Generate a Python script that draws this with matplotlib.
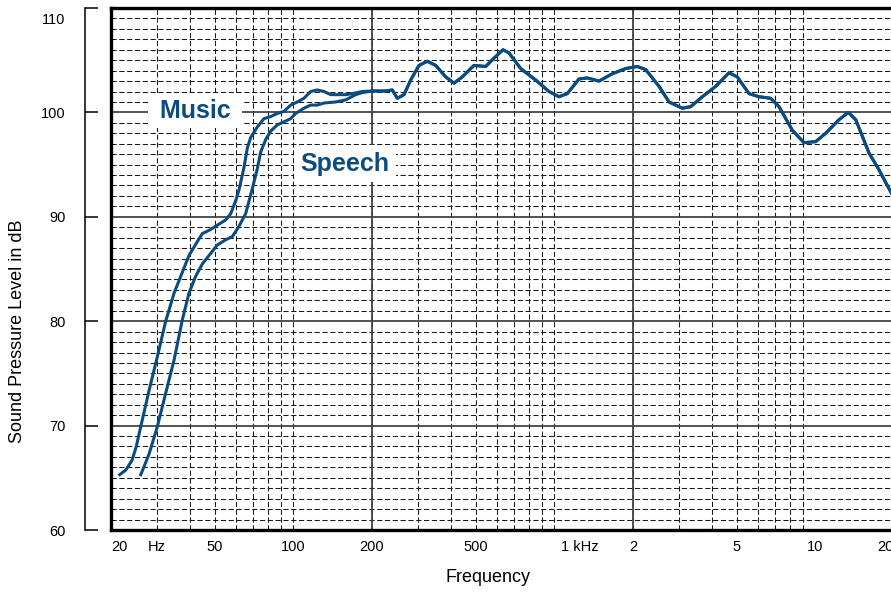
import numpy as np
import matplotlib.pyplot as plt
from matplotlib.ticker import NullLocator
from matplotlib.transforms import ScaledTranslation

plt.rcParams['font.family'] = ['Liberation Sans', 'DejaVu Sans']

# Low-frequency part of the response for each preset (Hz, dB SPL)
music_hz = [21.6, 22.8, 24.1, 25.0, 26.0, 28.0, 30.1, 32.4, 34.9, 37.0, 39.8,
            43.5, 44.8, 47.5, 50.4, 55.0, 57.5, 60.2, 61.9, 64.6, 66.6, 68.6,
            72.7, 77.1, 81.8, 86.7, 92.0, 97.6, 103.5, 109.7, 116.4, 123.4,
            131.0, 139.0, 149.5, 158.6, 168.1, 183.6]
music_db = [65.3, 65.75, 66.7, 68.0, 69.9, 73.4, 76.6, 80.0, 82.7, 84.3, 86.3,
            87.9, 88.4, 88.7, 89.1, 89.7, 90.3, 91.6, 92.6, 94.7, 96.6, 97.6,
            98.6, 99.4, 99.6, 99.9, 100.1, 100.7, 101.0, 101.35, 102.0, 102.15,
            102.0, 101.7, 101.7, 101.7, 101.8, 102.0]

speech_hz = [26.0, 26.8, 28.0, 30.1, 32.4, 34.9, 37.5, 39.8, 42.2, 44.8, 47.5,
             51.1, 55.0, 58.3, 61.9, 65.6, 69.6, 72.7, 74.9, 78.3, 81.8, 86.7,
             92.0, 97.6, 102.0, 109.7, 116.4, 123.4, 131.0, 145.2, 158.6, 173.2,
             183.6]
speech_db = [65.3, 66.1, 67.3, 69.9, 73.1, 76.3, 80.1, 82.7, 84.3, 85.5, 86.3,
             87.3, 87.8, 88.1, 89.1, 90.3, 92.7, 94.6, 96.2, 97.4, 98.2, 98.8,
             99.1, 99.4, 99.9, 100.4, 100.7, 100.7, 100.9, 101.0, 101.2, 101.7,
             101.9]

# Above ~200 Hz both presets give the same curve
common_hz = [200.5, 225.7, 239.2, 250.0, 265.3, 281.4, 302.7, 325.8, 350.8,
             383.2, 412.4, 443.6, 491.9, 545.4, 586.9, 635.2, 669.7, 742.5,
             847.9, 953.5, 1041, 1120, 1242, 1336, 1482, 1666, 1875, 2077,
             2237, 2516, 2748, 3090, 3328, 3687, 4150, 4666, 5018, 5565, 6078,
             6740, 7252, 8154, 9040, 10024, 10948, 12310, 13366, 14272, 16049,
             17523, 19136, 20000]
common_db = [102.05, 102.05, 102.15, 101.35, 101.7, 103.1, 104.5, 104.9, 104.5,
             103.4, 102.8, 103.4, 104.5, 104.4, 105.2, 106.0, 105.7, 104.2,
             103.1, 102.0, 101.5, 101.8, 103.2, 103.3, 103.0, 103.7, 104.2, 104.4,
             104.1, 102.5, 101.0, 100.4, 100.55, 101.5, 102.5, 103.8, 103.4, 101.8,
             101.5, 101.35, 100.55, 98.3, 97.1, 97.2, 98.0, 99.3, 100.0, 99.3,
             96.1, 94.5, 92.7, 91.8]

freq_ticks = [20, 30, 50, 100, 200, 500, 1000, 2000, 5000, 10000, 20000]
freq_labels = ['20', 'Hz', '50', '100', '200', '500', '1 kHz', '2', '5', '10', '20']
level_ticks = [60, 70, 80, 90, 100, 110]

blue = '#0b4c80'
grid_dash = (0, (5, 2.5))

fig = plt.figure(figsize=(8.91, 5.94), dpi=100)
ax = fig.add_axes([111 / 891, 64 / 594, 783 / 891, 522 / 594])
ax.set_xscale('log')
ax.set_xlim(20, 20000)
ax.set_ylim(60, 110)

# log paper: dashed lines at every 1-9 multiple and every dB,
# solid at 200 / 2000 Hz and every 10 dB
for decade in (10, 100, 1000):
    for m in range(1, 10):
        f = m * decade
        if 20 < f < 20000:
            ax.axvline(f, color='#1a1a1a', lw=0.75, ls=grid_dash, zorder=1)
for db in range(61, 110):
    if db % 10:
        ax.axhline(db, color='#1a1a1a', lw=0.75, ls=grid_dash, zorder=1)
for f in (200, 2000):
    ax.axvline(f, color='#444', lw=1.3, zorder=1.5)
for db in (70, 80, 90, 100):
    ax.axhline(db, color='#444', lw=1.3, zorder=1.5)

ax.plot(np.r_[music_hz, common_hz], np.r_[music_db, common_db],
        color=blue, lw=2.2, solid_joinstyle='round', zorder=4)
ax.plot(np.r_[speech_hz, common_hz], np.r_[speech_db, common_db],
        color=blue, lw=2.2, solid_joinstyle='round', zorder=4)

label_font = dict(family=['Liberation Sans', 'DejaVu Sans'],
                  fontsize=18, fontweight='bold', color=blue,
                  ha='center', va='center', zorder=3)
ax.text(42, 100.1, ' Music ',
        bbox=dict(boxstyle='square,pad=0.2', fc='white', ec='none'), **label_font)
ax.text(157.6, 95.1, 'Speech',
        bbox=dict(boxstyle='square,pad=0.25', fc='white', ec='none'), **label_font)

# frame: thick lines on the chart, thin scale bar set off to the left
for side in ('top', 'bottom'):
    ax.spines[side].set_linewidth(2.4)
ax.spines['right'].set_visible(False)
ax.spines['left'].set_position(('outward', 18.7))
ax.spines['left'].set_linewidth(1.1)
ax.axvline(20, color='k', lw=2.4, zorder=5, clip_on=False)

ax.set_xticks(freq_ticks, freq_labels)
ax.xaxis.set_minor_locator(NullLocator())
ax.set_yticks(level_ticks)
ax.tick_params(axis='y', direction='in', length=9.4, width=1.1, pad=14, labelsize=10.5)
ax.tick_params(axis='x', length=0, pad=7, labelsize=10.5)

xl = ax.get_xticklabels()
xl[0].set_ha('left')
xl[-1].set_ha('right')
xl[6].set_ha('left')
xl[6].set_transform(xl[6].get_transform() + ScaledTranslation(0.07, 0, fig.dpi_scale_trans))
yl = ax.get_yticklabels()
yl[-1].set_transform(yl[-1].get_transform() + ScaledTranslation(0, -0.1, fig.dpi_scale_trans))

fig.text(18 / 891, 1 - 331 / 594, 'Sound Pressure Level in dB', rotation=90,
         ha='center', va='center', fontsize=13)
fig.text(488 / 891, 1 - 578 / 594, 'Frequency', ha='center', va='center', fontsize=13)

fig.savefig('out.png', dpi=100)
